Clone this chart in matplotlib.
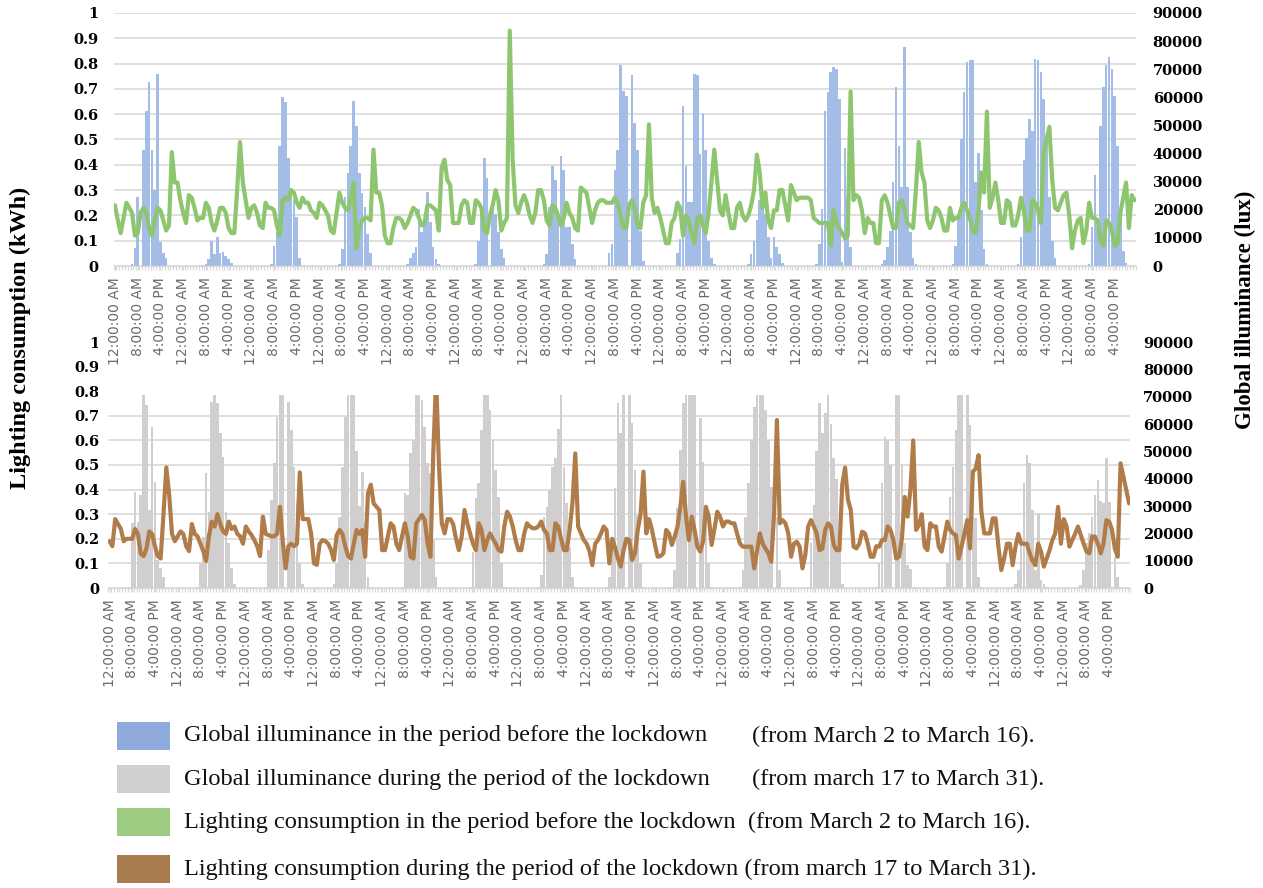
import numpy as np
import matplotlib
matplotlib.use("Agg")
import matplotlib.pyplot as plt
from matplotlib.patches import Rectangle

# ---------------- data ----------------
tick_cycle = ["12:00:00 AM", "8:00:00 AM", "4:00:00 PM"]
n_days = 15

# Global illuminance before the lockdown (March 2 - March 16), klux, hourly, one list per day
lux_before_klux = [
    [0,0,0,0,0,0,0.6,6.4,24.6,0,41.4,55.0,65.4,41.4,27.0,68.4,8.4,4.8,3.0,0,0,0,0,0],
    [0,0,0,0,0,0,0,0.3,0.6,2.4,9.0,4.2,10.2,4.8,5.0,3.6,2.4,1.2,0,0,0,0,0,0],
    [0,0,0,0,0,0,0,0.6,7.2,12.0,42.6,60.0,58.2,38.4,27.6,23.4,17.4,3.0,0,0,0,0,0,0],
    [0,0,0,0,0,0,0,0.6,6.0,24.6,33.0,42.6,58.8,49.8,33.0,25.8,21.0,11.4,4.8,0,0,0,0,0],
    [0,0,0,0,0,0,0,0.6,3.0,4.8,6.6,20.4,12.0,16.2,26.4,15.6,6.6,2.4,0.6,0,0,0,0,0],
    [0,0,0,0,0,0,0,0.6,9.0,18.6,38.4,31.2,0,22.0,18.6,12.0,6.0,3.0,0,0,0,0,0,0],
    [0,0,0,0,0,0,0,0.6,4.2,21.0,35.4,30.6,19.0,39.0,34.2,13.8,13.8,7.8,2.4,0,0,0,0,0],
    [0,0,0,0,0,0,4.8,7.8,34.2,41.4,71.4,62.4,60.6,0,67.8,51.0,41.4,12.6,1.8,0,0,0,0,0],
    [0,0,0,0,0,0,4.8,9.6,57.0,35.4,22.8,22.8,68.4,67.8,40.0,54.0,41.4,9.0,3.0,0.6,0,0,0,0],
    [0,0,0,0,0,0,0,0.6,4.2,9.0,16.2,23.4,21.6,18.6,10.2,3.0,10.2,6.6,4.2,1.0,0,0,0,0],
    [0,0,0,0,0,0,0,0.6,7.8,20.4,55.2,61.8,69.0,70.8,70.2,59.4,1.5,42.0,24.6,6.6,0,0,0,0],
    [0,0,0,0,0,0,0.6,2.0,6.6,12.6,30.0,63.6,42.6,28.2,78.0,28.2,12.0,3.0,0.6,0,0,0,0,0],
    [0,0,0,0,0,0,0,0.6,7.2,18.6,45.0,61.8,72.6,73.2,73.2,30.0,40.2,20.0,6.0,0.6,0,0,0,0],
    [0,0,0,0,0,0,0.6,10.2,37.8,45.6,52.2,48.0,73.8,73.2,69.0,59.4,45.0,24.6,9.0,3.0,0,0,0,0],
    [0,0,0,0,0,0,0,0.6,13.8,32.4,14.0,49.8,63.6,71.4,74.4,70.2,60.6,42.6,19.8,5.4,1.2,0,0,0],
]

# Global illuminance during the lockdown (March 17 - March 31), klux
lux_during_klux = [
    [0,0,0,0,0,0,0,0.5,23.7,35.2,24.3,34.0,78.0,67.0,28.5,59.0,38.9,10.2,7.2,4.0,0,0,0,0],
    [0,0,0,0,0,0,0,0.5,9.0,18.8,42.0,27.9,68.2,78.0,67.6,56.6,48.0,27.9,16.3,7.2,1.5,0,0,0],
    [0,0,0,0,0,0,0,0.5,13.9,32.2,45.6,62.7,78.0,78.0,0,68.2,57.8,44.4,31.0,9.0,1.5,0,0,0],
    [0,0,0,0,0,0,0,1.5,9.0,26.1,44.4,62.7,78.0,78.0,72.0,50.0,30.0,42.6,24.0,4.0,0,0,0,0],
    [0,0,0,0,0,0,0,0.5,34.6,34.0,49.3,54.1,78.0,78.0,68.8,59.0,45.6,42.0,17.6,4.0,0,0,0,0],
    [0,0,0,0,0,0,0,0.5,13.0,32.8,38.3,57.8,78.0,78.0,65.1,54.1,43.2,33.4,9.0,0.5,0,0,0,0],
    [0,0,0,0,0,0,0,0.5,4.8,26.1,29.8,36.0,44.4,47.4,58.0,76.0,44.4,31.0,15.1,4.1,0.5,0,0,0],
    [0,0,0,0,0,0,0,0.5,4.1,17.6,36.5,67.6,56.6,78.0,0,78.0,60.2,43.2,26.7,9.0,0.5,0,0,0],
    [0,0,0,0,0,0,0.5,6.6,29.1,50.5,67.6,78.0,78.0,78.0,72.0,0,62.1,46.2,26.7,9.0,0.5,0,0,0],
    [0,0,0,0,0,0,0.5,6.6,26.1,38.3,54.1,66.3,78.0,78.0,78.0,65.1,54.1,37.1,0,26.1,6.6,0,0,0],
    [0,0,0,0,0,0,0.5,16.3,30.4,50.0,67.6,56.6,64.0,78.0,60.0,47.4,40.0,21.2,1.5,0,0,0,0,0],
    [0,0,0,0,0,0,0.5,9.0,38.3,55.4,54.1,45.0,0,78.0,78.0,45.0,16.3,8.5,7.0,0.5,0,0,0,0],
    [0,0,0,0,0,0,0.5,9.0,33.4,44.4,57.8,78.0,78.0,0,78.0,59.6,43.0,25.5,4.1,0.5,0,0,0,0],
    [0,0,0,0,0,0,0.5,1.5,6.6,16.3,38.3,48.7,45.6,28.5,6.6,27.3,2.9,1.5,0.5,0,0,0,0,0],
    [0,0,0,0,0,0.5,1.0,6.6,16.3,20.0,26.0,34.0,39.5,32.0,31.0,47.4,31.5,0.5,11.5,4.0,0.5,0,0,0],
]

# Lighting consumption before the lockdown (kWh), hourly
cons_before_kwh = [
    [0.24,0.18,0.13,0.19,0.25,0.23,0.21,0.12,0.13,0.21,0.23,0.21,0.15,0.12,0.18,0.23,0.22,0.18,0.14,0.16,0.45,0.33,0.33,0.26],
    [0.21,0.17,0.28,0.27,0.23,0.18,0.19,0.19,0.25,0.23,0.17,0.14,0.18,0.23,0.23,0.21,0.15,0.13,0.13,0.30,0.49,0.33,0.26,0.19],
    [0.23,0.24,0.21,0.16,0.15,0.25,0.23,0.23,0.22,0.16,0.12,0.26,0.27,0.26,0.30,0.29,0.25,0.23,0.27,0.25,0.25,0.22,0.21,0.19],
    [0.25,0.24,0.22,0.20,0.14,0.13,0.21,0.29,0.25,0.23,0.22,0.27,0.33,0.07,0.15,0.18,0.19,0.19,0.18,0.46,0.29,0.29,0.24,0.12],
    [0.09,0.09,0.15,0.19,0.19,0.18,0.15,0.17,0.20,0.23,0.22,0.19,0.16,0.17,0.24,0.24,0.23,0.22,0.14,0.39,0.42,0.34,0.32,0.17],
    [0.17,0.17,0.24,0.26,0.25,0.17,0.17,0.26,0.25,0.23,0.14,0.13,0.20,0.24,0.30,0.26,0.14,0.17,0.19,0.93,0.42,0.24,0.21,0.25],
    [0.28,0.25,0.20,0.17,0.21,0.30,0.30,0.26,0.18,0.16,0.24,0.23,0.20,0.16,0.19,0.25,0.21,0.19,0.15,0.14,0.31,0.30,0.29,0.23],
    [0.17,0.22,0.25,0.26,0.26,0.25,0.25,0.25,0.27,0.25,0.20,0.15,0.15,0.24,0.26,0.23,0.16,0.15,0.25,0.28,0.56,0.27,0.21,0.23],
    [0.19,0.14,0.09,0.09,0.17,0.19,0.25,0.23,0.12,0.20,0.18,0.13,0.09,0.19,0.20,0.16,0.13,0.21,0.33,0.46,0.34,0.22,0.20,0.28],
    [0.21,0.15,0.15,0.23,0.25,0.20,0.18,0.20,0.24,0.30,0.44,0.37,0.23,0.29,0.18,0.15,0.22,0.22,0.30,0.30,0.24,0.18,0.32,0.29],
    [0.26,0.27,0.27,0.27,0.27,0.26,0.19,0.18,0.17,0.17,0.17,0.17,0.08,0.22,0.17,0.15,0.13,0.11,0.12,0.69,0.26,0.28,0.27,0.22],
    [0.13,0.19,0.17,0.17,0.09,0.09,0.26,0.28,0.25,0.20,0.15,0.15,0.25,0.26,0.22,0.17,0.16,0.15,0.30,0.49,0.37,0.33,0.18,0.15],
    [0.18,0.23,0.22,0.19,0.14,0.14,0.23,0.18,0.19,0.19,0.23,0.25,0.22,0.19,0.14,0.13,0.21,0.37,0.29,0.61,0.23,0.27,0.33,0.26],
    [0.17,0.17,0.26,0.25,0.16,0.16,0.20,0.27,0.22,0.14,0.14,0.26,0.25,0.22,0.17,0.45,0.50,0.55,0.34,0.23,0.22,0.25,0.28,0.29],
    [0.20,0.07,0.14,0.18,0.19,0.09,0.14,0.25,0.19,0.19,0.18,0.10,0.08,0.18,0.17,0.14,0.08,0.09,0.21,0.27,0.33,0.15,0.28,0.26],
]

# Lighting consumption during the lockdown (kWh), hourly
cons_during_kwh = [
    [0.19,0.17,0.28,0.26,0.24,0.19,0.20,0.20,0.20,0.24,0.22,0.14,0.13,0.16,0.23,0.22,0.17,0.13,0.12,0.30,0.49,0.38,0.22,0.19],
    [0.21,0.23,0.22,0.17,0.15,0.26,0.22,0.21,0.18,0.15,0.11,0.21,0.27,0.25,0.30,0.26,0.23,0.22,0.27,0.24,0.25,0.22,0.21,0.18],
    [0.25,0.23,0.215,0.195,0.17,0.13,0.29,0.22,0.215,0.21,0.21,0.22,0.33,0.19,0.08,0.17,0.18,0.17,0.18,0.47,0.28,0.28,0.28,0.22],
    [0.10,0.094,0.18,0.195,0.19,0.18,0.155,0.114,0.215,0.236,0.22,0.17,0.13,0.12,0.18,0.236,0.22,0.236,0.127,0.385,0.42,0.344,0.33,0.317],
    [0.154,0.154,0.21,0.263,0.25,0.18,0.154,0.21,0.263,0.209,0.127,0.12,0.263,0.28,0.297,0.276,0.18,0.127,0.55,0.85,0.50,0.263,0.222,0.28],
    [0.28,0.26,0.20,0.154,0.209,0.317,0.263,0.22,0.18,0.154,0.263,0.236,0.154,0.195,0.222,0.20,0.18,0.154,0.148,0.25,0.31,0.29,0.25,0.195],
    [0.154,0.154,0.22,0.263,0.25,0.243,0.243,0.25,0.27,0.236,0.222,0.154,0.154,0.263,0.25,0.20,0.154,0.154,0.236,0.344,0.547,0.25,0.222,0.195],
    [0.18,0.15,0.093,0.18,0.195,0.22,0.25,0.236,0.10,0.20,0.165,0.12,0.087,0.154,0.20,0.195,0.114,0.141,0.236,0.30,0.473,0.222,0.28,0.236],
    [0.18,0.127,0.13,0.141,0.236,0.222,0.175,0.209,0.25,0.33,0.432,0.29,0.195,0.29,0.236,0.168,0.148,0.19,0.33,0.29,0.175,0.24,0.31,0.29],
    [0.25,0.27,0.27,0.263,0.263,0.22,0.18,0.168,0.168,0.168,0.168,0.08,0.15,0.222,0.18,0.16,0.141,0.107,0.30,0.683,0.263,0.276,0.263,0.222],
    [0.127,0.18,0.188,0.168,0.08,0.134,0.25,0.276,0.25,0.222,0.154,0.16,0.236,0.263,0.25,0.175,0.154,0.154,0.42,0.49,0.36,0.317,0.168,0.161],
    [0.18,0.229,0.222,0.18,0.127,0.127,0.17,0.168,0.195,0.195,0.25,0.236,0.195,0.12,0.127,0.20,0.37,0.29,0.40,0.60,0.236,0.256,0.30,0.168],
    [0.154,0.263,0.25,0.25,0.168,0.148,0.209,0.27,0.236,0.222,0.215,0.12,0.168,0.22,0.276,0.161,0.473,0.486,0.54,0.31,0.222,0.222,0.222,0.283],
    [0.283,0.168,0.073,0.12,0.18,0.18,0.093,0.168,0.22,0.18,0.18,0.18,0.141,0.11,0.093,0.18,0.148,0.087,0.12,0.154,0.195,0.222,0.33,0.18],
    [0.28,0.25,0.168,0.195,0.22,0.25,0.215,0.18,0.148,0.141,0.209,0.209,0.18,0.141,0.18,0.276,0.27,0.236,0.16,0.127,0.507,0.453,0.40,0.344],
]

kwh_ticks = [0, 0.1, 0.2, 0.3, 0.4, 0.5, 0.6, 0.7, 0.8, 0.9, 1]
kwh_tick_labels = ["0", "0.1", "0.2", "0.3", "0.4", "0.5", "0.6", "0.7", "0.8", "0.9", "1"]
lux_ticks = [0, 10000, 20000, 30000, 40000, 50000, 60000, 70000, 80000, 90000]

legend_rows = [
    ("#8FAADC", "Global illuminance in the period before the lockdown", "(from March 2 to March 16)."),
    ("#D0CECE", "Global illuminance during the period of the lockdown", "(from march 17 to March 31)."),
    ("#9DCB82", "Lighting consumption in the period before the lockdown  (from March 2 to March 16).", None),
    ("#A97C50", "Lighting consumption during the period of the lockdown (from march 17 to March 31).", None),
]

# ---------------- figure ----------------
W, H = 1263.0, 888.0
fig = plt.figure(figsize=(W / 100, H / 100), dpi=100)


def rect(x0, x1, ytop, ybot):
    return [x0 / W, 1 - ybot / H, (x1 - x0) / W, (ybot - ytop) / H]


n_hours = n_days * 24
hours = np.arange(n_hours)
tick_pos = np.arange(0, n_hours, 8)
tick_lab = [tick_cycle[i % 3] for i in range(len(tick_pos))]

ytick_font = dict(family="DejaVu Serif", weight="bold", size=10.5)
GRID = "#D9D9D9"


def draw_panel(r, lux_days, kwh_days, bar_color, line_color, z, lpad, rpad, cover_from=None):
    axL = fig.add_axes(r)
    axR = axL.twinx()
    axR.set_zorder(z)
    axL.set_zorder(z + 1)
    axL.patch.set_visible(False)

    lux = np.concatenate([np.asarray(d, float) for d in lux_days]) * 1000.0
    kwh = np.concatenate([np.asarray(d, float) for d in kwh_days])

    axL.set_xlim(-0.5, n_hours - 0.5)
    axL.set_ylim(0, 1)
    axR.set_ylim(0, 90000)

    # gridlines (behind bars) at the left-axis tick values
    for v in kwh_ticks:
        axR.axhline(v * 90000, color=GRID, lw=1.2, zorder=0)

    axR.bar(hours, lux, width=0.92, color=bar_color, linewidth=0, zorder=2)
    axL.plot(hours, kwh, color=line_color, lw=3.0, solid_joinstyle="round",
             solid_capstyle="round", zorder=3)

    for ax in (axL, axR):
        for s in ("top", "left", "right"):
            ax.spines[s].set_visible(False)
    axR.spines["bottom"].set_visible(False)
    axL.spines["bottom"].set_color(GRID)
    axL.spines["bottom"].set_linewidth(1.0)

    axL.set_yticks(kwh_ticks)
    axL.set_yticklabels(kwh_tick_labels, fontdict=ytick_font)
    axL.tick_params(axis="y", length=0, pad=lpad)
    axR.set_yticks(lux_ticks)
    axR.set_yticklabels([str(v) for v in lux_ticks], fontdict=ytick_font)
    axR.tick_params(axis="y", length=0, pad=rpad)

    axL.set_xticks(tick_pos)
    axL.set_xticklabels(tick_lab, rotation=90, fontsize=10, color="#6B6B6B",
                        family="DejaVu Sans")
    axL.set_xticks(np.arange(-0.5, n_hours, 1), minor=True)
    axL.tick_params(axis="x", which="both", length=3, color=GRID, width=0.8, pad=5)

    if cover_from is not None:
        axL.add_patch(Rectangle((-0.01, cover_from), 1.02, 1.02 - cover_from,
                                transform=axL.transAxes, facecolor="white",
                                edgecolor="none", zorder=20, clip_on=False))
    return axL, axR


# bottom panel first (lower z), top panel above so its labels sit over the bottom cover
draw_panel(rect(108.1, 1130.5, 342, 588), lux_during_klux, cons_during_kwh,
           "#D0CECE", "#B07D4A", z=1, lpad=6, rpad=9, cover_from=0.785)
draw_panel(rect(113.6, 1136.0, 13, 266), lux_before_klux, cons_before_kwh,
           "#A4BDE6", "#8EC56F", z=5, lpad=11, rpad=12)

# axis titles
fig.text(20 / W, 1 - 338 / H, "Lighting consumption (kWh)", rotation=90,
         ha="center", va="center", family="Liberation Serif", weight="bold", fontsize=17.5)
fig.text(1245 / W, 1 - 310 / H, "Global illuminance (lux)", rotation=90,
         ha="center", va="center", family="Liberation Serif", weight="bold", fontsize=16.5)

# legend
row_centers = [736, 779, 822, 869]
for (col, main, paren), yc in zip(legend_rows, row_centers):
    fig.patches.append(Rectangle((117 / W, 1 - (yc + 14) / H), 53 / W, 28 / H,
                                 transform=fig.transFigure, facecolor=col,
                                 edgecolor="none"))
    fig.text(184 / W, 1 - yc / H, main, ha="left", va="center",
             family="Liberation Serif", fontsize=17.6, color="#111111")
    if paren is not None:
        fig.text(752 / W, 1 - yc / H, paren, ha="left", va="center",
                 family="Liberation Serif", fontsize=17.6, color="#111111")

fig.savefig("out.png", dpi=100, facecolor="white")
